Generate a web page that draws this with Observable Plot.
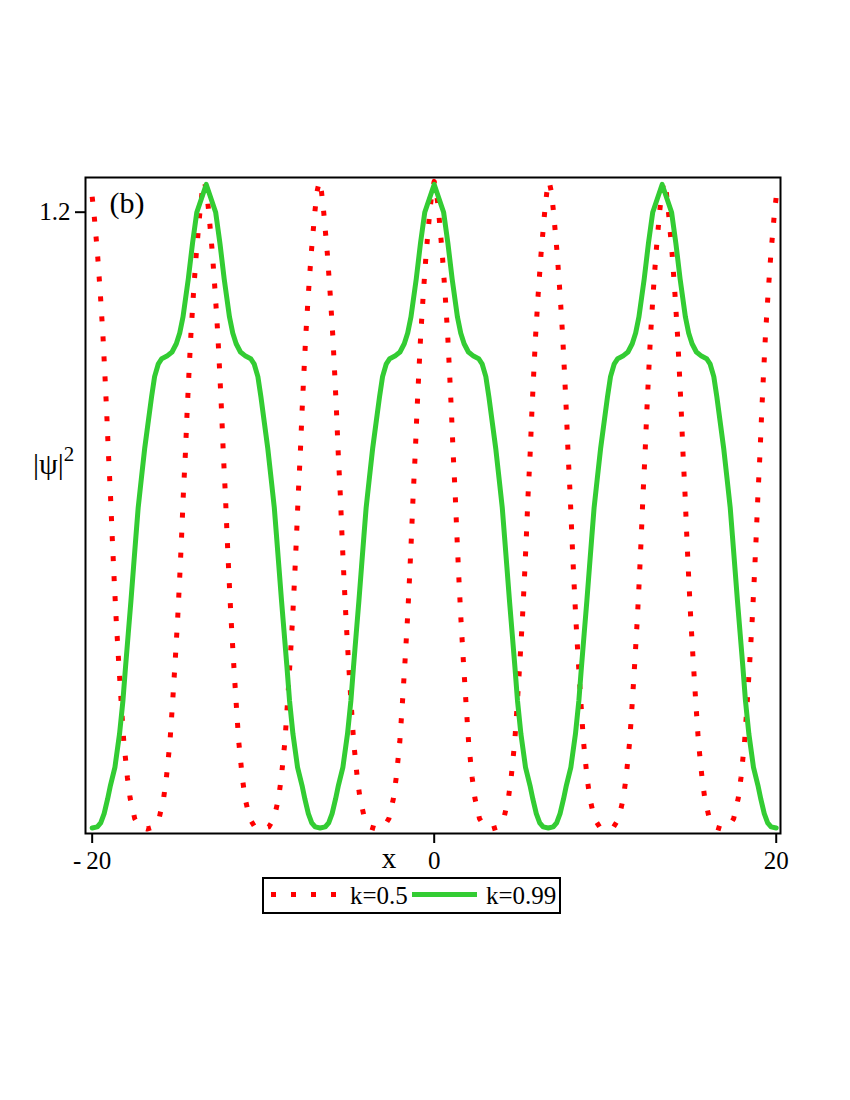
<!DOCTYPE html>
<html>
<head>
<meta charset="utf-8">
<script src="https://cdn.jsdelivr.net/npm/d3@7"></script>
<script src="https://cdn.jsdelivr.net/npm/@observablehq/plot@0.6"></script>
<style>
  html, body { margin: 0; padding: 0; background: white; }
  #wrap { position: relative; width: 850px; height: 1100px; font-family: 'Liberation Serif', 'Times New Roman', serif; }
  #chart { position: absolute; left: 0; top: 0; }
  #chart svg, #chart svg text { font-family: 'Liberation Serif', 'Times New Roman', serif !important; }
  #ylab { position: absolute; left: 33px; top: 446px; font-size: 30px; line-height: 1; color: black; }
  #ylab sup { font-size: 21px; position: relative; top: -2px; }
  #legend { position: absolute; left: 262px; top: 877px; }
</style>
</head>
<body>
<div id="wrap">
  <div id="chart"></div>
  <div id="ylab">|ψ|<sup>2</sup></div>
  <svg id="legend" width="300" height="38"></svg>
</div>
<script>
// ---- data ----
const seriesNames = ["k=0.5", "k=0.99"];
const seriesColors = ["#ff0000", "#33cc33"];
const xTicks = [-20, 0, 20];
const yTicks = [1.2];
const panelLabel = "(b)";
const xLabel = "x";

// k = 0.5 (red, dotted): [x, |psi|^2]
const redK05 = [
[-20.00,1.23],[-19.90,1.20],[-19.69,1.12],[-19.52,1.04],[-19.37,0.96],[-19.25,0.88],[-19.15,0.81],[-19.05,0.73],[-18.93,0.65],[-18.83,0.57],[-18.72,0.49],[-18.60,0.41],[-18.46,0.33],[-18.31,0.25],[-18.15,0.17],[-17.94,0.10],[-17.78,0.06],[-17.51,0.02],[-17.21,0.004],[-16.80,0],
[-16.39,0.004],[-16.09,0.02],[-15.82,0.06],[-15.66,0.10],[-15.45,0.17],[-15.29,0.25],[-15.14,0.33],[-15.00,0.41],[-14.88,0.49],[-14.77,0.57],[-14.67,0.65],[-14.55,0.73],[-14.45,0.81],[-14.35,0.88],[-14.23,0.96],[-14.08,1.04],[-13.91,1.12],[-13.70,1.20],[-13.57,1.24],[-13.44,1.26],
[-13.31,1.24],[-13.18,1.20],[-12.97,1.12],[-12.80,1.04],[-12.65,0.96],[-12.53,0.88],[-12.43,0.81],[-12.33,0.73],[-12.21,0.65],[-12.11,0.57],[-12.00,0.49],[-11.88,0.41],[-11.74,0.33],[-11.59,0.25],[-11.43,0.17],[-11.22,0.10],[-11.06,0.06],[-10.79,0.02],[-10.49,0.004],[-10.08,0],
[-9.67,0.004],[-9.37,0.02],[-9.10,0.06],[-8.94,0.10],[-8.73,0.17],[-8.57,0.25],[-8.42,0.33],[-8.28,0.41],[-8.16,0.49],[-8.05,0.57],[-7.95,0.65],[-7.83,0.73],[-7.73,0.81],[-7.63,0.88],[-7.51,0.96],[-7.36,1.04],[-7.19,1.12],[-6.98,1.20],[-6.85,1.24],[-6.72,1.26],
[-6.59,1.24],[-6.46,1.20],[-6.25,1.12],[-6.08,1.04],[-5.93,0.96],[-5.81,0.88],[-5.71,0.81],[-5.61,0.73],[-5.49,0.65],[-5.39,0.57],[-5.28,0.49],[-5.16,0.41],[-5.02,0.33],[-4.87,0.25],[-4.71,0.17],[-4.50,0.10],[-4.34,0.06],[-4.07,0.02],[-3.77,0.004],[-3.36,0],
[-2.95,0.004],[-2.65,0.02],[-2.38,0.06],[-2.22,0.10],[-2.01,0.17],[-1.85,0.25],[-1.70,0.33],[-1.56,0.41],[-1.44,0.49],[-1.33,0.57],[-1.23,0.65],[-1.11,0.73],[-1.01,0.81],[-0.91,0.88],[-0.79,0.96],[-0.64,1.04],[-0.47,1.12],[-0.26,1.20],[-0.13,1.24],[0,1.26],
[0.13,1.24],[0.26,1.20],[0.47,1.12],[0.64,1.04],[0.79,0.96],[0.91,0.88],[1.01,0.81],[1.11,0.73],[1.23,0.65],[1.33,0.57],[1.44,0.49],[1.56,0.41],[1.70,0.33],[1.85,0.25],[2.01,0.17],[2.22,0.10],[2.38,0.06],[2.65,0.02],[2.95,0.004],[3.36,0],
[3.77,0.004],[4.07,0.02],[4.34,0.06],[4.50,0.10],[4.71,0.17],[4.87,0.25],[5.02,0.33],[5.16,0.41],[5.28,0.49],[5.39,0.57],[5.49,0.65],[5.61,0.73],[5.71,0.81],[5.81,0.88],[5.93,0.96],[6.08,1.04],[6.25,1.12],[6.46,1.20],[6.59,1.24],[6.72,1.26],
[6.85,1.24],[6.98,1.20],[7.19,1.12],[7.36,1.04],[7.51,0.96],[7.63,0.88],[7.73,0.81],[7.83,0.73],[7.95,0.65],[8.05,0.57],[8.16,0.49],[8.28,0.41],[8.42,0.33],[8.57,0.25],[8.73,0.17],[8.94,0.10],[9.10,0.06],[9.37,0.02],[9.67,0.004],[10.08,0],
[10.49,0.004],[10.79,0.02],[11.06,0.06],[11.22,0.10],[11.43,0.17],[11.59,0.25],[11.74,0.33],[11.88,0.41],[12.00,0.49],[12.11,0.57],[12.21,0.65],[12.33,0.73],[12.43,0.81],[12.53,0.88],[12.65,0.96],[12.80,1.04],[12.97,1.12],[13.18,1.20],[13.31,1.24],[13.44,1.26],
[13.57,1.24],[13.70,1.20],[13.91,1.12],[14.08,1.04],[14.23,0.96],[14.35,0.88],[14.45,0.81],[14.55,0.73],[14.67,0.65],[14.77,0.57],[14.88,0.49],[15.00,0.41],[15.14,0.33],[15.29,0.25],[15.45,0.17],[15.66,0.10],[15.82,0.06],[16.09,0.02],[16.39,0.004],[16.80,0],
[17.21,0.004],[17.51,0.02],[17.78,0.06],[17.94,0.10],[18.15,0.17],[18.31,0.25],[18.46,0.33],[18.60,0.41],[18.72,0.49],[18.83,0.57],[18.93,0.65],[19.05,0.73],[19.15,0.81],[19.25,0.88],[19.37,0.96],[19.52,1.04],[19.69,1.12],[19.90,1.20],[20.00,1.23]
];

// k = 0.99 (green, solid): [x, |psi|^2]
const greenK099 = [
[-20.00,0.002],[-19.70,0.004],[-19.50,0.012],[-19.30,0.03],[-19.10,0.058],[-18.93,0.085],[-18.67,0.12],[-18.40,0.185],[-18.20,0.25],[-18.05,0.315],[-17.89,0.38],[-17.73,0.445],[-17.58,0.51],[-17.44,0.57],[-17.31,0.625],[-17.13,0.68],[-16.93,0.74],[-16.73,0.79],[-16.53,0.84],[-16.35,0.88],[-16.13,0.905],[-15.93,0.915],[-15.63,0.92],[-15.33,0.928],[-15.08,0.944],[-14.88,0.965],[-14.69,0.996],[-14.38,1.07],[-14.13,1.14],[-13.88,1.20],[-13.33,1.254],
[-12.78,1.20],[-12.53,1.14],[-12.28,1.07],[-11.97,0.996],[-11.78,0.965],[-11.58,0.944],[-11.33,0.928],[-11.03,0.92],[-10.73,0.915],[-10.53,0.905],[-10.31,0.88],[-10.13,0.84],[-9.93,0.79],[-9.73,0.74],[-9.53,0.68],[-9.35,0.625],[-9.22,0.57],[-9.08,0.51],[-8.93,0.445],[-8.77,0.38],[-8.61,0.315],[-8.46,0.25],[-8.26,0.185],[-7.99,0.12],[-7.73,0.085],[-7.56,0.058],[-7.36,0.03],[-7.16,0.012],[-6.96,0.004],[-6.67,0.002],
[-6.37,0.004],[-6.17,0.012],[-5.97,0.03],[-5.77,0.058],[-5.60,0.085],[-5.34,0.12],[-5.07,0.185],[-4.87,0.25],[-4.72,0.315],[-4.56,0.38],[-4.40,0.445],[-4.25,0.51],[-4.11,0.57],[-3.98,0.625],[-3.80,0.68],[-3.60,0.74],[-3.40,0.79],[-3.20,0.84],[-3.02,0.88],[-2.80,0.905],[-2.60,0.915],[-2.30,0.92],[-2.00,0.928],[-1.75,0.944],[-1.55,0.965],[-1.36,0.996],[-1.05,1.07],[-0.80,1.14],[-0.55,1.20],[0,1.254],
[0.55,1.20],[0.80,1.14],[1.05,1.07],[1.36,0.996],[1.55,0.965],[1.75,0.944],[2.00,0.928],[2.30,0.92],[2.60,0.915],[2.80,0.905],[3.02,0.88],[3.20,0.84],[3.40,0.79],[3.60,0.74],[3.80,0.68],[3.98,0.625],[4.11,0.57],[4.25,0.51],[4.40,0.445],[4.56,0.38],[4.72,0.315],[4.87,0.25],[5.07,0.185],[5.34,0.12],[5.60,0.085],[5.77,0.058],[5.97,0.03],[6.17,0.012],[6.37,0.004],[6.67,0.002],
[6.96,0.004],[7.16,0.012],[7.36,0.03],[7.56,0.058],[7.73,0.085],[7.99,0.12],[8.26,0.185],[8.46,0.25],[8.61,0.315],[8.77,0.38],[8.93,0.445],[9.08,0.51],[9.22,0.57],[9.35,0.625],[9.53,0.68],[9.73,0.74],[9.93,0.79],[10.13,0.84],[10.31,0.88],[10.53,0.905],[10.73,0.915],[11.03,0.92],[11.33,0.928],[11.58,0.944],[11.78,0.965],[11.97,0.996],[12.28,1.07],[12.53,1.14],[12.78,1.20],[13.33,1.254],
[13.88,1.20],[14.13,1.14],[14.38,1.07],[14.69,0.996],[14.88,0.965],[15.08,0.944],[15.33,0.928],[15.63,0.92],[15.93,0.915],[16.13,0.905],[16.35,0.88],[16.53,0.84],[16.73,0.79],[16.93,0.74],[17.13,0.68],[17.31,0.625],[17.44,0.57],[17.58,0.51],[17.73,0.445],[17.89,0.38],[18.05,0.315],[18.20,0.25],[18.40,0.185],[18.67,0.12],[18.93,0.085],[19.10,0.058],[19.30,0.03],[19.50,0.012],[19.70,0.004],[20.00,0.002]
];

const serif = "'Liberation Serif', 'Times New Roman', serif";

const chart = Plot.plot({
  width: 850,
  height: 876,
  marginLeft: 85,
  marginRight: 70,
  marginTop: 177,
  marginBottom: 43,
  x: {domain: [-20.39, 20.25]},
  y: {domain: [-0.0088, 1.2675]},
  style: {fontFamily: serif, fontSize: "25px", color: "black", background: "white", overflow: "visible"},
  marks: [
    Plot.line(redK05, {x: d => d[0], y: d => d[1], stroke: seriesColors[0], strokeWidth: 5,
      strokeDasharray: "5,15", strokeLinecap: "butt", curve: "linear"}),
    Plot.line(greenK099, {x: d => d[0], y: d => d[1], stroke: seriesColors[1], strokeWidth: 5,
      strokeLinejoin: "round", curve: "linear"}),
    Plot.frame({stroke: "black", strokeWidth: 2}),
    Plot.axisX({ticks: xTicks, tickSize: 10, tickPadding: 8, strokeWidth: 2, label: null,
      fontSize: 25, tickFormat: d => (d < 0 ? "-\u2009" + Math.abs(d) : String(d))}),
    Plot.axisY({ticks: yTicks, tickSize: 10, tickPadding: 5, strokeWidth: 2, label: null,
      fontSize: 25, tickFormat: d => d.toFixed(1)}),
    Plot.text([panelLabel], {text: d => d, frameAnchor: "top-left", dx: 24, dy: 14,
      textAnchor: "start", lineAnchor: "top", fontSize: 30}),
    Plot.text([xLabel], {text: d => d, frameAnchor: "bottom", dx: -44, dy: 14,
      lineAnchor: "top", fontSize: 29})
  ]
});
document.getElementById("chart").appendChild(chart);

// legend
const lg = d3.select("#legend");
lg.append("rect").attr("x", 1).attr("y", 1).attr("width", 297).attr("height", 35)
  .attr("fill", "white").attr("stroke", "black").attr("stroke-width", 2);
lg.append("line").attr("x1", 9).attr("x2", 75).attr("y1", 17.5).attr("y2", 17.5)
  .attr("stroke", seriesColors[0]).attr("stroke-width", 5).attr("stroke-dasharray", "5,15");
lg.append("text").attr("x", 88).attr("y", 27).text(seriesNames[0])
  .attr("font-family", serif).attr("font-size", 25);
lg.append("line").attr("x1", 150).attr("x2", 215).attr("y1", 17.5).attr("y2", 17.5)
  .attr("stroke", seriesColors[1]).attr("stroke-width", 5);
lg.append("text").attr("x", 224).attr("y", 27).text(seriesNames[1])
  .attr("font-family", serif).attr("font-size", 25);
</script>
</body>
</html>
